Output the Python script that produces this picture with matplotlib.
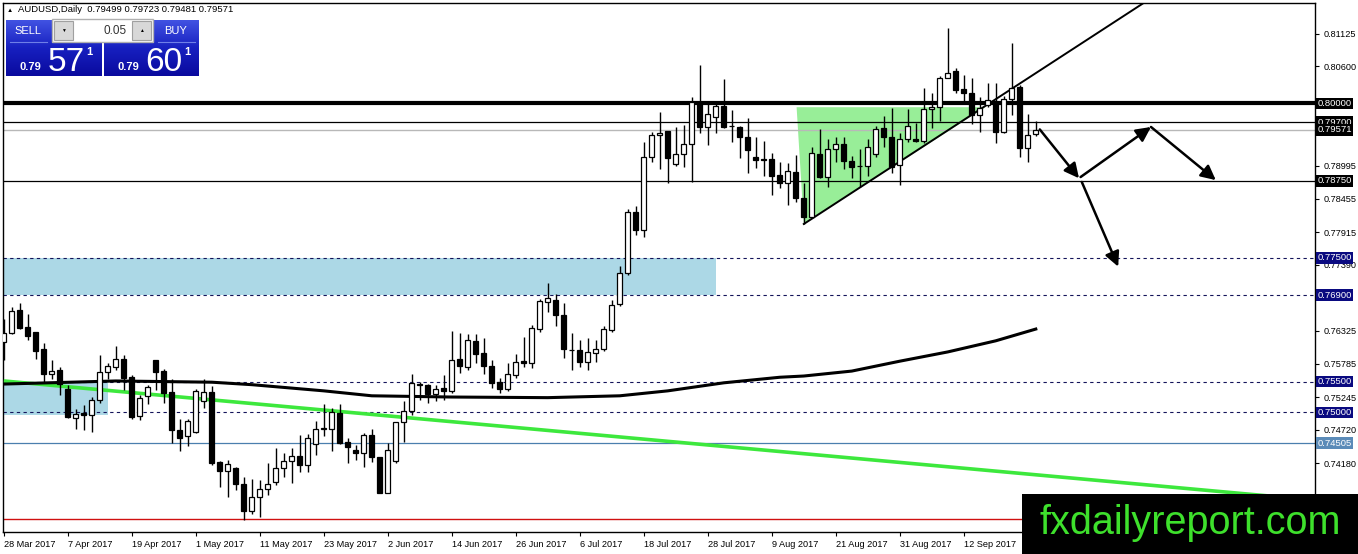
import matplotlib
matplotlib.use("Agg")
import matplotlib.pyplot as plt
import matplotlib.transforms as mtransforms
from matplotlib.patches import Rectangle, Polygon
from matplotlib.colors import LinearSegmentedColormap
import numpy as np
import pandas as pd

plt.rcParams['font.family'] = ['Liberation Sans', 'DejaVu Sans']

# daily AUDUSD candles, 28 Mar 2017 .. 25 Sep 2017 (business days)
first_day = "2017-03-28"
opens = [0.7614, 0.7628, 0.7666, 0.7638, 0.7630, 0.7602, 0.7562, 0.7569, 0.7538, 0.7491,
         0.7499, 0.7496, 0.7520, 0.7565, 0.7573, 0.7587, 0.7557, 0.7494, 0.7526, 0.7585,
         0.7567, 0.7533, 0.7472, 0.7462, 0.7468, 0.7519, 0.7533, 0.7420, 0.7406, 0.7410,
         0.7384, 0.7341, 0.7364, 0.7376, 0.7388, 0.7410, 0.7422, 0.7429, 0.7415, 0.7449,
         0.7474, 0.7474, 0.7499, 0.7452, 0.7440, 0.7435, 0.7464, 0.7428, 0.7370, 0.7422,
         0.7484, 0.7503, 0.7546, 0.7544, 0.7530, 0.7539, 0.7534, 0.7587, 0.7574, 0.7616,
         0.7597, 0.7576, 0.7549, 0.7538, 0.7560, 0.7583, 0.7580, 0.7635, 0.7679, 0.7682,
         0.7658, 0.7601, 0.7601, 0.7582, 0.7597, 0.7602, 0.7634, 0.7676, 0.7725, 0.7824,
         0.7796, 0.7914, 0.7949, 0.7956, 0.7902, 0.7919, 0.7934, 0.8003, 0.7962, 0.7978,
         0.7996, 0.7964, 0.7962, 0.7945, 0.7914, 0.7910, 0.7910, 0.7884, 0.7871, 0.7889,
         0.7847, 0.7817, 0.7919, 0.7881, 0.7926, 0.7934, 0.7907, 0.7899, 0.7899, 0.7919,
         0.7960, 0.7946, 0.7900, 0.7942, 0.7943, 0.7940, 0.7991, 0.7994, 0.8042, 0.8053,
         0.8023, 0.8017, 0.7981, 0.7998, 0.8000, 0.7954, 0.8007, 0.8027, 0.7928, 0.79499]
highs = [0.7651, 0.7671, 0.7677, 0.7659, 0.7631, 0.7612, 0.7585, 0.7573, 0.7545, 0.7505,
         0.7512, 0.7525, 0.7593, 0.7580, 0.7608, 0.7593, 0.7560, 0.7528, 0.7545, 0.7585,
         0.7570, 0.7554, 0.7489, 0.7489, 0.7538, 0.7554, 0.7543, 0.7422, 0.7423, 0.7412,
         0.7395, 0.7392, 0.7391, 0.7419, 0.7442, 0.7435, 0.7442, 0.7464, 0.7465, 0.7487,
         0.7513, 0.7507, 0.7514, 0.7458, 0.7447, 0.7466, 0.7474, 0.7428, 0.7451, 0.7485,
         0.7519, 0.7563, 0.7550, 0.7546, 0.7545, 0.7561, 0.7632, 0.7628, 0.7627, 0.7627,
         0.7620, 0.7585, 0.7555, 0.7580, 0.7595, 0.7622, 0.7642, 0.7683, 0.7710, 0.7692,
         0.7677, 0.7628, 0.7617, 0.7620, 0.7618, 0.7640, 0.7682, 0.7737, 0.7830, 0.7834,
         0.7938, 0.7954, 0.7986, 0.7956, 0.7962, 0.7965, 0.8011, 0.8062, 0.8003, 0.8003,
         0.8039, 0.7989, 0.7964, 0.7976, 0.7945, 0.7940, 0.7920, 0.7906, 0.7904, 0.7917,
         0.7871, 0.7930, 0.7958, 0.7942, 0.7946, 0.7946, 0.7915, 0.7926, 0.7942, 0.7964,
         0.7980, 0.7992, 0.7952, 0.7991, 0.7969, 0.8025, 0.8017, 0.8044, 0.8122, 0.8057,
         0.8046, 0.8041, 0.8010, 0.8033, 0.8033, 0.8012, 0.8098, 0.8030, 0.7983, 0.79723]
lows = [0.7585, 0.7627, 0.7635, 0.7618, 0.7587, 0.7550, 0.7554, 0.7529, 0.7491, 0.7473,
        0.7471, 0.7469, 0.7516, 0.7554, 0.7569, 0.7536, 0.7489, 0.7488, 0.7513, 0.7536,
        0.7516, 0.7451, 0.7437, 0.7445, 0.7466, 0.7507, 0.7415, 0.7380, 0.7364, 0.7374,
        0.7326, 0.7335, 0.7331, 0.7367, 0.7383, 0.7396, 0.7386, 0.7404, 0.7403, 0.7431,
        0.7462, 0.7438, 0.7449, 0.7419, 0.7423, 0.7412, 0.7420, 0.7369, 0.7369, 0.7419,
        0.7453, 0.7496, 0.7520, 0.7516, 0.7518, 0.7521, 0.7531, 0.7564, 0.7569, 0.7580,
        0.7562, 0.7539, 0.7532, 0.7534, 0.7555, 0.7574, 0.7572, 0.7631, 0.7663, 0.7640,
        0.7588, 0.7569, 0.7574, 0.7569, 0.7582, 0.7600, 0.7631, 0.7672, 0.7723, 0.7787,
        0.7784, 0.7906, 0.7894, 0.7871, 0.7899, 0.7898, 0.7873, 0.7953, 0.7933, 0.7952,
        0.7961, 0.7938, 0.7911, 0.7887, 0.7895, 0.7883, 0.7852, 0.7863, 0.7836, 0.7841,
        0.7805, 0.7815, 0.7879, 0.7865, 0.7906, 0.7894, 0.7879, 0.7865, 0.7882, 0.7914,
        0.7930, 0.7887, 0.7868, 0.7938, 0.7937, 0.7936, 0.7960, 0.7971, 0.8041, 0.8017,
        0.8000, 0.7967, 0.7954, 0.7995, 0.7936, 0.7952, 0.7981, 0.7914, 0.7906, 0.79481]
closes = [0.7628, 0.7665, 0.7637, 0.7624, 0.7600, 0.7562, 0.7567, 0.7546, 0.7493, 0.7498,
          0.7496, 0.7520, 0.7565, 0.7576, 0.7587, 0.7556, 0.7492, 0.7523, 0.7541, 0.7566,
          0.7532, 0.7471, 0.7459, 0.7486, 0.7535, 0.7533, 0.7419, 0.7406, 0.7417, 0.7384,
          0.7341, 0.7364, 0.7376, 0.7384, 0.7410, 0.7422, 0.7429, 0.7415, 0.7458, 0.7474,
          0.7475, 0.7501, 0.7450, 0.7444, 0.7435, 0.7464, 0.7428, 0.7370, 0.7439, 0.7484,
          0.7503, 0.7547, 0.7545, 0.7530, 0.7538, 0.7535, 0.7585, 0.7576, 0.7617, 0.7595,
          0.7576, 0.7547, 0.7538, 0.7563, 0.7582, 0.7580, 0.7636, 0.7680, 0.7686, 0.7657,
          0.7602, 0.7601, 0.7582, 0.7598, 0.7602, 0.7635, 0.7674, 0.7726, 0.7825, 0.7796,
          0.7913, 0.7949, 0.7953, 0.7911, 0.7919, 0.7934, 0.8003, 0.7962, 0.7983, 0.7996,
          0.7962, 0.7963, 0.7945, 0.7924, 0.7909, 0.7908, 0.7883, 0.7871, 0.7890, 0.7847,
          0.7816, 0.7920, 0.7881, 0.7926, 0.7934, 0.7907, 0.7898, 0.7899, 0.7929, 0.7958,
          0.7945, 0.7898, 0.7942, 0.7964, 0.7940, 0.7991, 0.7995, 0.8042, 0.8050, 0.8022,
          0.8017, 0.7981, 0.7992, 0.8006, 0.7954, 0.8007, 0.8025, 0.7928, 0.7949, 0.79571]

# moving average read at some bars
ma_bars = [0, 14, 26, 31, 40, 46, 56, 68, 77, 83, 90, 97, 100, 106, 112, 118, 124, 129]
ma_vals = [0.7546, 0.7551, 0.7549, 0.7545, 0.7535, 0.7527, 0.7525, 0.7524, 0.7527, 0.7535,
           0.7548, 0.7557, 0.7559, 0.7567, 0.7583, 0.7598, 0.7616, 0.7635]

# drawn objects
green_trend = ([0, 164], [0.7551, 0.7358])
up_trend = ([100.0, 143.0], [0.7805, 0.8167])
triangle_bars = [99.1, 100.0, 122.7]
triangle_vals = [0.7994, 0.7805, 0.7994]
zone_top = (0.7750, 0.7690, 89)      # top, bottom, last bar
zone_low = (0.7550, 0.7496, 13)
arrows = [((129.5, 0.7958), (134.4, 0.7879)),
          ((134.6, 0.7881), (143.4, 0.7962)),
          ((143.4, 0.7962), (151.5, 0.7876)),
          ((134.75, 0.7873), (139.3, 0.7736))]

solid_levels = [(0.8000, 'black', 3.0), (0.7970, 'black', 0.9), (0.79571, '#b8b8b8', 1.0),
                (0.7875, 'black', 0.9), (0.74505, '#4a7fae', 0.9), (0.7328, '#d01010', 1.0)]
dashed_levels = [0.7750, 0.7690, 0.7550, 0.7500]
price_tags = [(0.8000, 'black'), (0.7970, 'black'), (0.79571, 'black'), (0.7875, 'black'),
              (0.7750, '#0a0a80'), (0.7690, '#0a0a80'), (0.7550, '#0a0a80'),
              (0.7500, '#0a0a80'), (0.74505, '#5b8bb8')]
axis_ticks = [0.81125, 0.80600, 0.78995, 0.78455, 0.77915, 0.77390,
              0.76325, 0.75785, 0.75245, 0.74720, 0.74180, 0.73640]

W, H = 1358, 554
fig = plt.figure(figsize=(W / 100, H / 100), dpi=100)
fig.patch.set_facecolor('white')
ax = fig.add_axes([3 / W, (H - 532) / H, 1312 / W, 529 / H])
ax.set_xlim(-0.1, 163.9)
ax.set_ylim(0.73066, 0.81626)

n = len(opens)
bars = np.arange(n)
dates = pd.bdate_range(first_day, periods=n)

# zones and triangle behind everything
ax.add_patch(Rectangle((-1, zone_top[1]), zone_top[2] + 1, zone_top[0] - zone_top[1],
                       facecolor='#acd8e6', edgecolor='none', zorder=1))
ax.add_patch(Rectangle((-1, zone_low[1]), zone_low[2] + 1, zone_low[0] - zone_low[1],
                       facecolor='#acd8e6', edgecolor='none', zorder=1))
ax.add_patch(Polygon(list(zip(triangle_bars, triangle_vals)), closed=True,
                     facecolor='#98ee98', edgecolor='none', zorder=1))

for val, col, lw in solid_levels:
    ax.axhline(val, color=col, lw=lw, zorder=2)
for val in dashed_levels:
    ax.axhline(val, color='#14145a', lw=0.8, ls=(0, (3, 3)), zorder=2)

ax.plot(*green_trend, color='#3de83d', lw=2.6, zorder=3, solid_capstyle='butt')
ax.plot(ma_bars, ma_vals, color='black', lw=2.2, zorder=3)
ax.plot(*up_trend, color='black', lw=1.4, zorder=4)

# candles
o = np.array(opens); c = np.array(closes)
ax.vlines(bars, lows, highs, color='black', lw=1, zorder=5)
bull = c >= o
ax.bar(bars[bull], np.maximum(c - o, 0.00002)[bull], bottom=o[bull], width=0.6,
       color='white', edgecolor='black', linewidth=0.9, zorder=6)
ax.bar(bars[~bull], np.maximum(o - c, 0.00002)[~bull], bottom=c[~bull], width=0.6,
       color='black', edgecolor='black', linewidth=0.9, zorder=6)

for (x0, y0), (x1, y1) in arrows:
    ax.annotate('', xy=(x1, y1), xytext=(x0, y0),
                arrowprops=dict(arrowstyle='-|>', color='black', lw=1.8,
                                mutation_scale=22, shrinkA=0, shrinkB=0), zorder=7)

# axes styling
for s in ax.spines.values():
    s.set_color('black')
    s.set_linewidth(1)
ax.yaxis.tick_right()
ax.set_yticks(axis_ticks)
ax.set_yticklabels([f"{v:.5f}" for v in axis_ticks])
ax.tick_params(axis='y', length=3, pad=3, labelsize=6.6, colors='black')
xt = bars[::8]
ax.set_xticks(xt)
ax.set_xticklabels([f"{d.day} {d:%b %Y}" for d in dates[::8]], ha='left')
ax.tick_params(axis='x', length=3, pad=3, labelsize=6.6)

trans = mtransforms.blended_transform_factory(ax.transAxes, ax.transData)
for val, bg in price_tags:
    ax.text(1.0018, val, f"{val:.5f}", transform=trans, ha='left', va='center',
            fontsize=6.8, color='white', zorder=10, clip_on=False,
            bbox=dict(boxstyle='square,pad=0.15', facecolor=bg, edgecolor='none'))

# overlay in pixel coordinates: header, trade panel, logo
ov = fig.add_axes([0, 0, 1, 1], zorder=10)
ov.patch.set_alpha(0)
ov.axis('off')

ov.text(7, 10, "\u25b2", fontsize=4.5, va='center', ha='left', color='black')
ov.text(18, 10, "AUDUSD,Daily  0.79499 0.79723 0.79481 0.79571", fontsize=6.8,
        va='center', ha='left', color='black')

blue = LinearSegmentedColormap.from_list('btn', ['#4152e2', '#1720c0', '#0a0a9e'])
grad = np.linspace(0, 1, 64).reshape(-1, 1)
for x0, x1 in [(6, 102), (104, 199)]:
    ov.imshow(grad, cmap=blue, extent=(x0, x1, 76, 20), aspect='auto', zorder=1)
ov.add_patch(Rectangle((52, 19), 101, 23, facecolor='white', edgecolor='#b0b0b0', lw=1, zorder=2))
ov.add_patch(Rectangle((54, 21), 19, 19, facecolor='#d8d8d8', edgecolor='#a0a0a0', lw=0.8, zorder=3))
ov.add_patch(Rectangle((132, 21), 19, 19, facecolor='#d8d8d8', edgecolor='#a0a0a0', lw=0.8, zorder=3))
ov.text(63.5, 30.5, "\u25bc", fontsize=3.5, ha='center', va='center', zorder=4)
ov.text(141.5, 30, "\u25b2", fontsize=3.5, ha='center', va='center', zorder=4)
ov.text(127, 30.5, "0.05", fontsize=8.5, ha='right', va='center', color='#333333', zorder=4)
ov.plot([10, 47], [42, 42], color='#6f7fe8', lw=0.8, zorder=4)
ov.plot([158, 195], [42, 42], color='#6f7fe8', lw=0.8, zorder=4)
ov.text(28, 31, "SELL", fontsize=8, ha='center', va='center', color='white', zorder=4)
ov.text(176, 31, "BUY", fontsize=8, ha='center', va='center', color='white', zorder=4)
for x_small, x_big, x_sup, big in [(20, 48, 86, "57"), (118, 145, 184, "60")]:
    ov.text(x_small, 70, "0.79", fontsize=8, fontweight='bold', ha='left',
            va='baseline', color='white', zorder=4)
    ov.text(x_big, 71, big, fontsize=24, ha='left', va='baseline', color='white', zorder=4)
    ov.text(x_sup, 55, "1", fontsize=8, fontweight='bold', ha='left',
            va='baseline', color='white', zorder=4)

ov.add_patch(Rectangle((1022, 494), W - 1022, H - 494, facecolor='black', edgecolor='none', zorder=5))
ov.text(1190, 523, "fxdailyreport.com", fontsize=28.5, ha='center', va='center',
        color='#3ee02c', zorder=6)

ov.set_xlim(0, W)
ov.set_ylim(H, 0)

fig.savefig("out.png", dpi=100, facecolor='white')
